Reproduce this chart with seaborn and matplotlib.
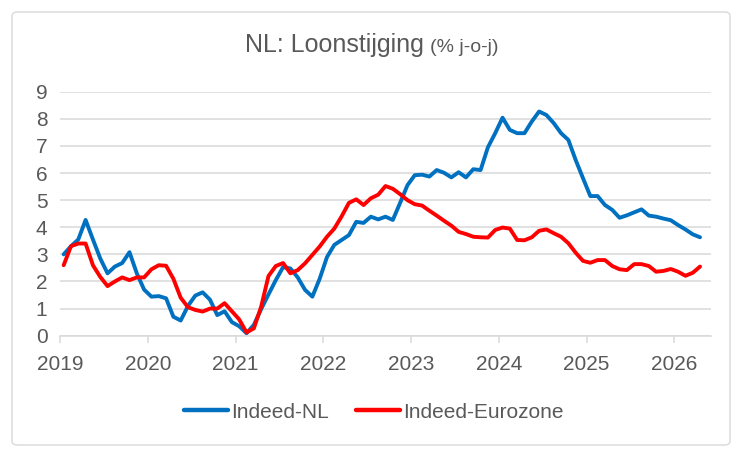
import numpy as np
import pandas as pd
import matplotlib
matplotlib.use("Agg")
import matplotlib.pyplot as plt
from matplotlib.patches import FancyBboxPatch
from matplotlib.lines import Line2D
import seaborn as sns

# maanden (jan 2019 t/m apr 2026)
maanden = pd.period_range("2019-01", periods=88, freq="M")

# Indeed-NL, loonstijging % j-o-j
indeed_nl = [
    3.0, 3.3, 3.55, 4.27, 3.55, 2.85, 2.3, 2.55, 2.68, 3.08, 2.3, 1.7,
    1.44, 1.46, 1.38, 0.7, 0.56, 1.1, 1.48, 1.6, 1.33, 0.76, 0.9, 0.5,
    0.35, 0.09, 0.4, 0.98, 1.52, 2.05, 2.53, 2.48, 2.15, 1.69, 1.44, 2.1,
    2.9, 3.35, 3.53, 3.71, 4.2, 4.16, 4.39, 4.29, 4.39, 4.27, 4.9, 5.55,
    5.92, 5.94, 5.87, 6.11, 6.01, 5.84, 6.03, 5.84, 6.14, 6.11, 6.95, 7.47,
    8.04, 7.59, 7.47, 7.47, 7.9, 8.27, 8.14, 7.84, 7.47, 7.22, 6.48, 5.81,
    5.15, 5.15, 4.82, 4.64, 4.35, 4.44, 4.55, 4.66, 4.43, 4.39, 4.32, 4.26,
    4.08, 3.92, 3.74, 3.63,
]

# Indeed-Eurozone
indeed_ez = [
    2.6, 3.3, 3.4, 3.4, 2.6, 2.17, 1.83, 2.0, 2.15, 2.05, 2.15, 2.15,
    2.45, 2.6, 2.58, 2.1, 1.4, 1.05, 0.95, 0.89, 1.0, 1.0, 1.2, 0.9,
    0.6, 0.12, 0.27, 1.07, 2.2, 2.57, 2.68, 2.3, 2.42, 2.67, 2.98, 3.29,
    3.65, 3.95, 4.4, 4.9, 5.03, 4.82, 5.07, 5.2, 5.52, 5.42, 5.22, 5.0,
    4.85, 4.8, 4.61, 4.43, 4.24, 4.06, 3.83, 3.75, 3.65, 3.63, 3.62, 3.9,
    3.99, 3.95, 3.53, 3.52, 3.63, 3.87, 3.92, 3.78, 3.65, 3.41, 3.06, 2.76,
    2.69, 2.79, 2.79, 2.57, 2.45, 2.42, 2.64, 2.64, 2.57, 2.36, 2.39, 2.46,
    2.36, 2.21, 2.32, 2.55,
]

jaren = [2019, 2020, 2021, 2022, 2023, 2024, 2025, 2026]
reeksen = ["Indeed-NL", "Indeed-Eurozone"]
kleuren = {"Indeed-NL": "#0070C0", "Indeed-Eurozone": "#FF0000"}

# maand als categorie: punt in het midden van de maand
x_pos = np.array([p.year + (p.month - 0.5) / 12 for p in maanden])
df = pd.concat([
    pd.DataFrame({"x": x_pos, "waarde": indeed_nl, "reeks": "Indeed-NL"}),
    pd.DataFrame({"x": x_pos, "waarde": indeed_ez, "reeks": "Indeed-Eurozone"}),
])

sns.set_theme(style="white")
plt.rcParams["font.family"] = ["Liberation Sans", "DejaVu Sans"]

tekst = "#595959"
grijs = "#d9d9d9"

fig = plt.figure(figsize=(7.43, 4.57), dpi=100)
ax = fig.add_axes([60 / 743, 1 - 335.7 / 457, 651 / 743, 244 / 457])

sns.lineplot(data=df, x="x", y="waarde", hue="reeks", hue_order=reeksen,
             palette=kleuren, linewidth=2.8, legend=False, ax=ax,
             solid_joinstyle="round", solid_capstyle="round")

ax.set_xlim(2019, 2019 + 89 / 12)
ax.set_ylim(0, 9)
ax.set_xticks(jaren)
ax.set_xticklabels([str(j) for j in jaren])
ax.set_yticks(range(0, 10))
ax.set_xlabel("")
ax.set_ylabel("")

ax.grid(axis="y", color=grijs, linewidth=1.1)
ax.grid(axis="x", visible=False)
ax.set_axisbelow(True)
for s in ["top", "right", "left"]:
    ax.spines[s].set_visible(False)
ax.spines["bottom"].set_color(grijs)
ax.spines["bottom"].set_linewidth(1.1)

ax.tick_params(axis="x", length=5, width=1.1, color=grijs, pad=9,
               labelsize=15, labelcolor=tekst, direction="out", bottom=True)
ax.tick_params(axis="y", length=0, pad=9, labelsize=15, labelcolor=tekst)

# titel met kleinere toevoeging
fig.text(424 / 743, 1 - 51.7 / 457, "NL: Loonstijging", ha="right",
         va="baseline", fontsize=18, color=tekst)
fig.text(430 / 743, 1 - 51.7 / 457, "(% j-o-j)", ha="left",
         va="baseline", fontsize=14, color=tekst)

handles = [Line2D([0], [0], color=kleuren[r], linewidth=3.2,
                  solid_capstyle="round") for r in reeksen]
fig.legend(handles, reeksen, loc="center", bbox_to_anchor=(374 / 743, 1 - 412 / 457),
           ncol=2, frameon=False, fontsize=15, labelcolor=tekst,
           handlelength=2.1, handletextpad=0.15, columnspacing=1.3)

# rand om de grafiek
rand = FancyBboxPatch((12 / 743, 12 / 457), 718 / 743, 433 / 457,
                      boxstyle="round,pad=0,rounding_size=0.008",
                      transform=fig.transFigure, facecolor="none",
                      edgecolor=grijs, linewidth=1.0)
fig.patches.append(rand)

fig.savefig("out.png", dpi=100)
